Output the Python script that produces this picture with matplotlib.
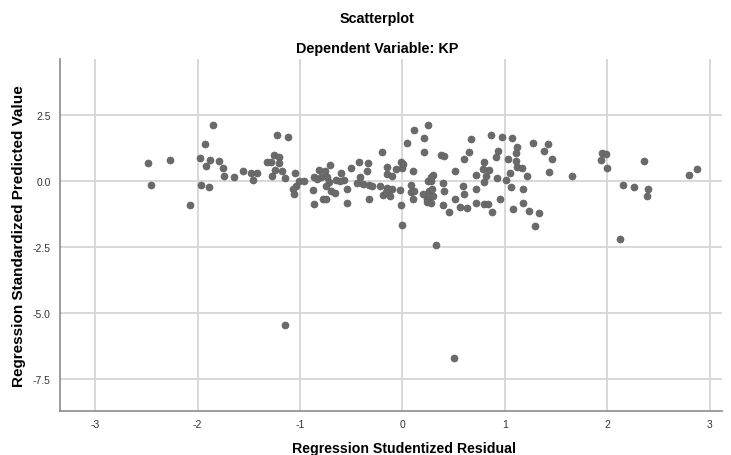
import matplotlib
matplotlib.use("Agg")
import matplotlib.pyplot as plt

plt.rcParams["font.family"] = ["Liberation Sans", "DejaVu Sans"]

# ── Data (studentized residual, standardized predicted) ──
resid = [
    -1.85, -1.93, -2.48, -2.27, -1.98, -1.88, -1.92, -1.79, -1.75, -1.74,
    -2.45, -1.97, -1.89, -2.07,
    -1.64, -1.56, -1.48, -1.42, -1.46, -1.22, -1.12, -1.32, -1.25, -1.20,
    -1.28, -1.20, -1.24, -1.18, -1.27, -1.15, -1.05, -1.01, -0.96, -1.04,
    -1.07, -1.06, -0.87, -0.86, -0.81, -0.76, -0.71, -0.86, -0.79, -0.83,
    -0.74, -0.72, -0.75, -0.70, -0.66, -0.77, -0.75, -0.65, -0.60, -0.57,
    -0.61, -0.54, -0.54, -0.50, -0.42, -0.34, -0.35, -0.41, -0.44, -0.38,
    -0.33, -0.30, -0.33, -0.20, -0.15, -0.15, -0.22, -0.15, -0.10, -0.19,
    -0.12, -0.14, -0.16,
    -0.10, -0.06, -0.01, 0.00, 0.01, -0.02, 0.08, 0.08, 0.10, -0.01,
    0.11, 0.25, 0.05, 0.21, 0.21, 0.10, 0.25, 0.28, 0.30, 0.28,
    0.26, 0.29, 0.20, 0.24, 0.27, 0.30, 0.24, 0.28, 0.38, 0.41,
    0.40, 0.41, 0.40, 0.46, 0.51, 0.51, 0.56, 0.63, 0.59, 0.60,
    0.60, 0.65, 0.67, 0.72, 0.72, 0.72, 0.80, 0.82, 0.79, 0.80,
    0.85, 0.80, 0.84, 0.88, 0.87, 0.97, 0.91, 0.93, 0.92, 0.95,
    1.01, 1.03, 1.05, 1.06, 1.07, 1.12, 1.11, 1.11, 1.12, 1.17,
    1.08, 1.18, 1.18, 1.22, 1.24, 1.33, 1.28, 1.38, 1.42, 1.46,
    1.43, 0.11,
    1.66, 1.95, 1.99, 1.94, 2.00, 2.15, 2.26, 2.36, 2.40, 2.39,
    2.80, 2.88,
    0.00, 0.33, 1.30, 2.13, -1.15, 0.50,
]
pred = [
    2.11, 1.38, 0.67, 0.80, 0.87, 0.78, 0.57, 0.76, 0.47, 0.17,
    -0.16, -0.17, -0.23, -0.92,
    0.13, 0.36, 0.29, 0.28, 0.03, 1.72, 1.66, 0.73, 0.97, 0.92,
    0.70, 0.67, 0.42, 0.39, 0.17, 0.10, 0.29, 0.00, -0.01, -0.21,
    -0.29, -0.49, -0.35, -0.88, 0.42, 0.37, 0.62, 0.15, 0.13, 0.06,
    0.13, -0.06, -0.19, -0.40, -0.47, -0.69, -0.67, 0.04, 0.28, 0.03,
    0.00, -0.29, -0.82, 0.47, 0.70, 0.66, 0.38, 0.15, -0.09, -0.13,
    -0.16, -0.20, -0.67, 1.08, 0.51, 0.25, -0.21, -0.28, -0.29, -0.53,
    -0.57, -0.30, -0.44,
    0.19, 0.44, 0.70, 0.47, 0.63, -0.34, -0.16, -0.42, -0.67, -0.91,
    1.93, 2.11, 1.45, 1.61, 1.08, 0.36, 0.00, 0.00, 0.23, 0.13,
    -0.38, -0.31, -0.50, -0.67, -0.59, -0.59, -0.80, -0.82, 0.98, 0.95,
    -0.09, -0.38, -0.91, -1.17, 0.36, -0.69, -0.98, -1.01, -0.21, -0.48,
    0.82, 1.08, 1.58, 0.23, -0.29, -0.82, -0.06, 0.19, 0.44, 0.70,
    0.41, -0.88, -0.88, -1.17, 1.73, 1.66, 0.89, 1.14, 0.10, -0.69,
    0.04, 0.82, 0.29, -0.25, 1.61, 1.30, 1.04, 0.76, 0.51, 0.47,
    -1.05, -0.31, -0.84, 0.17, -1.14, -1.20, 1.45, 1.13, 1.38, 0.82,
    0.32, -0.40,
    0.17, 1.04, 1.01, 0.78, 0.48, -0.16, -0.23, 0.77, -0.29, -0.57,
    0.23, 0.44,
    -1.68, -2.42, -1.70, -2.22, -5.47, -6.72,
]

x_ticks = [-3, -2, -1, 0, 1, 2, 3]
y_ticks = [2.5, 0.0, -2.5, -5.0, -7.5]

fig = plt.figure(figsize=(7.31, 4.56), dpi=100)
ax = fig.add_axes([0.0825, 0.097, 0.905, 0.771])

ax.scatter(resid, pred, s=26, color="#6a6a6a", edgecolors="#5e5e5e",
           linewidths=0.4, zorder=3)

ax.set_xlim(-3.34, 3.12)
ax.set_ylim(-8.71, 4.61)
ax.set_xticks(x_ticks)
ax.set_xticklabels([str(t) for t in x_ticks])
ax.set_yticks(y_ticks)
ax.set_yticklabels([f"{t:.1f}" for t in y_ticks])
ax.grid(True, color="#d6d6d6", linewidth=1.3, zorder=0)
ax.set_axisbelow(True)

for side in ["top", "right"]:
    ax.spines[side].set_visible(False)
for side in ["left", "bottom"]:
    ax.spines[side].set_color("#8c8c8c")
    ax.spines[side].set_linewidth(1.2)

ax.tick_params(axis="both", length=0, labelsize=7.5, labelcolor="#333333")
ax.tick_params(axis="x", pad=6)
ax.tick_params(axis="y", pad=7)

ax.set_xlabel("Regression Studentized Residual", fontsize=10.2,
              fontweight="bold")
ax.xaxis.set_label_coords(0.52, -0.086)
ax.set_ylabel("Regression Standardized Predicted Value", fontsize=11,
              fontweight="bold", labelpad=5)

fig.text(0.5155, 0.958, "Scatterplot", ha="center", va="center",
         fontsize=10.4, fontweight="bold")
fig.text(0.5155, 0.893, "Dependent Variable: KP", ha="center", va="center",
         fontsize=10.4, fontweight="bold")

fig.savefig("out.png", dpi=100)
